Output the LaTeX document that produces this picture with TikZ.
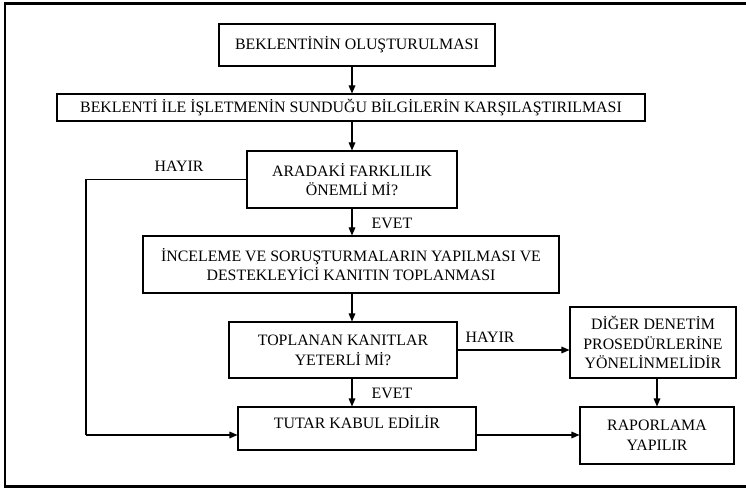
\documentclass[tikz,border=0pt]{standalone}
\usepackage{fontspec}
\setmainfont{Liberation Serif}
\usetikzlibrary{arrows.meta}
\begin{document}
\begin{tikzpicture}[x=0.75pt,y=-0.75pt,font=\fontsize{11.9}{14.8}\selectfont,
  kutu/.style={draw, line width=0.8pt, align=center, inner sep=0pt},
  ok/.style={-{Triangle[length=6pt,width=5pt]}, line width=0.8pt},
  yol/.style={line width=0.8pt}]
  \useasboundingbox (0,0) rectangle (746,488);
  \draw[line width=1.6pt] (746,3.5) -- (5,3.5) -- (5,486.5) -- (746,486.5);
  \coordinate (ax) at (352,0);
  \coordinate (sol) at (86,435);
  \node[kutu, minimum width=207pt, minimum height=31.5pt] (olus) at (357,45) {BEKLENTİNİN OLUŞTURULMASI};
  \node[kutu, minimum width=441pt, minimum height=20.25pt] (karsi) at (351,107.5) {BEKLENTİ İLE İŞLETMENİN SUNDUĞU BİLGİLERİN KARŞILAŞTIRILMASI};
  \node[kutu, minimum width=157.5pt, minimum height=42.75pt] (fark) at (352,179.5) {ARADAKİ FARKLILIK\\ÖNEMLİ Mİ?};
  \node[kutu, minimum width=312pt, minimum height=42.75pt] (incele) at (351,264.5) {İNCELEME VE SORUŞTURMALARIN YAPILMASI VE\\DESTEKLEYİCİ KANITIN TOPLANMASI};
  \node[kutu, minimum width=171pt, minimum height=42pt] (yeterli) at (343,350) {TOPLANAN KANITLAR\\YETERLİ Mİ?};
  \node[kutu, minimum width=124.5pt, minimum height=53.25pt] (diger) at (653,342.5) {DİĞER DENETİM\\PROSEDÜRLERİNE\\YÖNELİNMELİDİR};
  \node[kutu, minimum width=178.5pt, text height=15.75pt, text depth=16.5pt] (tutar) at (357,428.5) {TUTAR KABUL EDİLİR};
  \node[kutu, minimum width=115.5pt, minimum height=42.75pt] (rapor) at (657,435.5) {RAPORLAMA\\YAPILIR};
  \node (hayir1) at (179,166) {HAYIR};
  \node (evet1) at (392,223) {EVET};
  \node (hayir2) at (490,337) {HAYIR};
  \node (evet2) at (392,393) {EVET};
  \draw[ok] (olus.south -| ax) -- (karsi.north -| ax);
  \draw[ok] (karsi.south -| ax) -- (fark.north -| ax);
  \draw[ok] (fark.south -| ax) -- (incele.north -| ax);
  \draw[ok] (incele.south -| ax) -- (yeterli.north -| ax);
  \draw[ok] (yeterli.south -| ax) -- (tutar.north -| ax);
  \draw[yol] (fark.west) -| (sol);
  \draw[ok] (sol) -- (sol -| tutar.west);
  \draw[ok] (yeterli.east) -- (yeterli.east -| diger.west);
  \draw[ok] (diger.south -| rapor.north) -- (rapor.north);
  \draw[ok] (sol -| tutar.east) -- (sol -| rapor.west);
\end{tikzpicture}
\end{document}
